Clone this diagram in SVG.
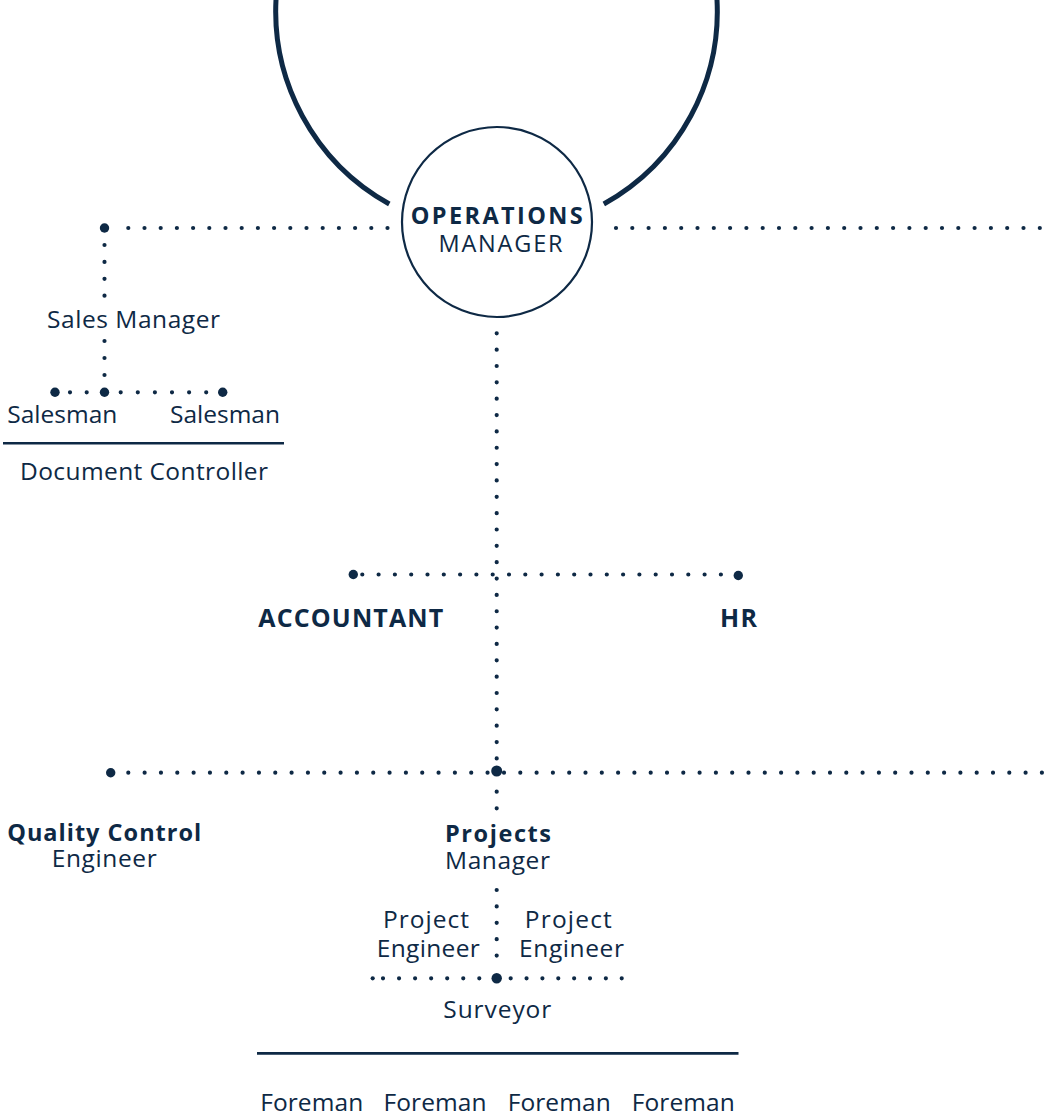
<svg xmlns="http://www.w3.org/2000/svg" width="1052" height="1115" viewBox="0 0 1052 1115">
<style>
.bg{fill:#ffffff}
.dot{stroke:#0e2945;stroke-width:4.2;stroke-linecap:round;fill:none}
.big{fill:#0e2945}
.solid{stroke:#0e2945;fill:none}
text{font-family:"Open Sans","Liberation Sans",sans-serif;fill:#0e2945;text-anchor:middle}
.r{font-size:24.5px;font-weight:400}
.b{font-size:23.5px;font-weight:700}
</style>
<rect class="bg" x="0" y="0" width="1052" height="1115"/>
<g id="connectors">
  <path class="solid" stroke-width="5" d="M 276.3 -5 A 220.8 220.8 0 0 0 389.3 204"/>
  <path class="solid" stroke-width="5" d="M 716.7 -5 A 220.8 220.8 0 0 1 603.8 204"/>
  <line class="dot" x1="128.3" y1="228" x2="389" y2="228" stroke-dasharray="0 16.2"/>
  <line class="dot" x1="616" y1="228" x2="1052" y2="228" stroke-dasharray="0 16.3"/>
  <circle class="big" cx="104.5" cy="228" r="4.7"/>
  <line class="dot" x1="104.5" y1="245" x2="104.5" y2="296" stroke-dasharray="0 16.9"/>
  <line class="dot" x1="104.5" y1="341" x2="104.5" y2="376" stroke-dasharray="0 17"/>
  <circle class="big" cx="55" cy="392.3" r="4.7"/>
  <circle class="big" cx="104.5" cy="392.3" r="4.7"/>
  <circle class="big" cx="222.7" cy="392.3" r="4.7"/>
  <line class="dot" x1="70" y1="392.3" x2="87" y2="392.3" stroke-dasharray="0 16.7"/>
  <line class="dot" x1="120.7" y1="392.3" x2="206.5" y2="392.3" stroke-dasharray="0 17.1"/>
  <line class="solid" stroke-width="2.5" x1="3" y1="443.3" x2="284" y2="443.3"/>
  <line class="dot" x1="496.7" y1="333.3" x2="496.7" y2="759.5" stroke-dasharray="0 16.35"/>
  <line class="dot" x1="362.3" y1="574.5" x2="721" y2="574.5" stroke-dasharray="0 16.3"/>
  <circle class="big" cx="353.3" cy="574.5" r="4.7"/>
  <circle class="big" cx="738.3" cy="575.5" r="4.7"/>
  <line class="dot" x1="128.3" y1="772.7" x2="488" y2="772.7" stroke-dasharray="0 16.33"/>
  <line class="dot" x1="504" y1="772.7" x2="1052" y2="772.7" stroke-dasharray="0 16.3"/>
  <circle class="big" cx="110.7" cy="772.7" r="4.7"/>
  <circle class="big" cx="496.7" cy="771" r="5.5"/>
  <line class="dot" x1="496.7" y1="791.7" x2="496.7" y2="809" stroke-dasharray="0 16.6"/>
  <line class="dot" x1="496.7" y1="890" x2="496.7" y2="956" stroke-dasharray="0 16.4"/>
  <circle class="big" cx="496.7" cy="978.3" r="5.2"/>
  <circle class="big" cx="372.7" cy="978.3" r="2.1"/>
  <line class="dot" x1="383" y1="978.3" x2="480" y2="978.3" stroke-dasharray="0 16.05"/>
  <line class="dot" x1="510.7" y1="978.3" x2="622" y2="978.3" stroke-dasharray="0 15.86"/>
  <line class="solid" stroke-width="2.7" x1="257" y1="1053.3" x2="738.5" y2="1053.3"/>
</g>
<g id="operations-manager">
  <circle class="solid" stroke-width="2.2" cx="497" cy="222" r="95"/>
  <text class="b" x="496.7" y="224" textLength="172">OPERATIONS</text>
  <text class="r" x="500.5" y="252" style="font-size:23.5px" textLength="124">MANAGER</text>
</g>
<g id="sales-manager"><text class="r" x="133.5" y="328" textLength="173">Sales Manager</text></g>
<g id="salesman-1"><text class="r" x="62.3" y="423" textLength="110">Salesman</text></g>
<g id="salesman-2"><text class="r" x="225" y="423" textLength="110">Salesman</text></g>
<g id="document-controller"><text class="r" x="144" y="480" textLength="248">Document Controller</text></g>
<g id="accountant"><text class="b" x="350.8" y="627" style="font-size:25px" textLength="185">ACCOUNTANT</text></g>
<g id="hr"><text class="b" x="738.5" y="627" style="font-size:25px" textLength="37">HR</text></g>
<g id="quality-control-engineer">
  <text class="b" x="104.2" y="841" textLength="194">Quality Control</text>
  <text class="r" x="104.2" y="867" textLength="105">Engineer</text>
</g>
<g id="projects-manager">
  <text class="b" x="498" y="842" textLength="106">Projects</text>
  <text class="r" x="497.5" y="869" textLength="105">Manager</text>
</g>
<g id="project-engineer-1">
  <text class="r" x="426" y="928" textLength="86">Project</text>
  <text class="r" x="428.3" y="957" textLength="103">Engineer</text>
</g>
<g id="project-engineer-2">
  <text class="r" x="568.3" y="928" textLength="87">Project</text>
  <text class="r" x="571.5" y="957" textLength="105">Engineer</text>
</g>
<g id="surveyor"><text class="r" x="497.3" y="1018" textLength="108">Surveyor</text></g>
<g id="foreman-1"><text class="r" x="311.7" y="1111" textLength="103">Foreman</text></g>
<g id="foreman-2"><text class="r" x="435" y="1111" textLength="103">Foreman</text></g>
<g id="foreman-3"><text class="r" x="559.2" y="1111" textLength="103">Foreman</text></g>
<g id="foreman-4"><text class="r" x="683.3" y="1111" textLength="103">Foreman</text></g>
</svg>
